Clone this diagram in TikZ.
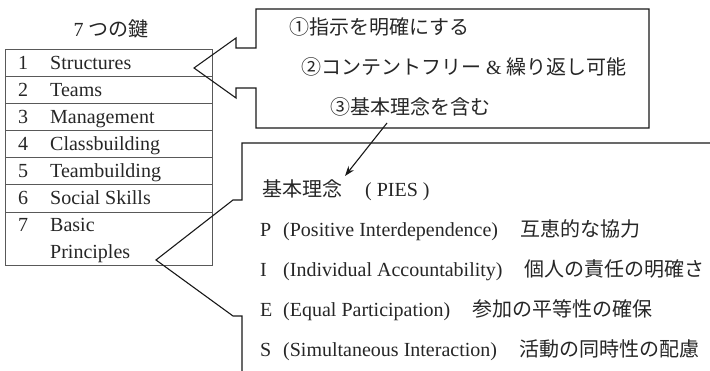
\documentclass[tikz,border=0pt]{standalone}
\usepackage{fontspec}
\setmainfont{Liberation Serif}
\newfontfamily\jpfont{Noto Sans CJK JP}
\usetikzlibrary{arrows.meta}
\begin{document}
\begin{tikzpicture}[x=1pt,y=-1pt,
  every node/.style={inner sep=0pt,text=black!85,font=\fontsize{20}{26}\selectfont},
  lbl/.style={anchor=base west},
  num/.style={anchor=base},
  tableline/.style={draw=black!65,line width=0.9pt},
  calloutline/.style={draw=black!90,line width=1.1pt,line join=miter},
  pointer/.style={draw=black!90,line width=1.1pt,-{Stealth[length=10pt,width=7pt]}}]
\useasboundingbox (0,0) rectangle (710,371);

% title
\node[num] (title) at (111,37) {7 {\jpfont つの鍵}};

% table
\draw[tableline] (5,49) rectangle (212,265);
\foreach \yy in {76,103,130,157,184,212} \draw[tableline] (5,\yy) -- (212,\yy);
\node[num] (n1) at (23,69.5) {1};  \node[lbl] (t1) at (50,69.5) {Structures};
\node[num] (n2) at (23,96.5) {2};  \node[lbl] (t2) at (50,96.5) {Teams};
\node[num] (n3) at (23,123.5) {3}; \node[lbl] (t3) at (50,123.5) {Management};
\node[num] (n4) at (23,150.5) {4}; \node[lbl] (t4) at (50,150.5) {Classbuilding};
\node[num] (n5) at (23,177.5) {5}; \node[lbl] (t5) at (50,177.5) {Teambuilding};
\node[num] (n6) at (23,205) {6};   \node[lbl] (t6) at (50,205) {Social Skills};
\node[num] (n7) at (23,232) {7};   \node[lbl] (t7) at (50,232) {Basic};
\node[lbl] (t7b) at (50,259) {Principles};

% top callout
\draw[calloutline] (256,48) -- (256,9) -- (649,9) -- (649,128) -- (256,128)
  -- (256,88) -- (236,88) -- (236,98) -- (194,68) -- (236,38) -- (236,48) -- cycle;
\node[lbl] (k1) at (289,35) {\jpfont ①指示を明確にする};
\node[lbl] (k2) at (301,75) {{\jpfont ②コンテントフリー}\hspace{5pt}\&\hspace{5pt}{\jpfont 繰り返し可能}};
\node[lbl] (k3) at (330,115) {\jpfont ③基本理念を含む};

% pointer
\coordinate (pa) at (387,123);
\coordinate (pb) at (345,176);
\draw[pointer] (pa) -- (pb);

% bottom callout
\draw[calloutline] (712,143) -- (242,143) -- (242,200) -- (233,200) -- (156,260)
  -- (233,316) -- (242,316) -- (242,373);
\node[lbl] (h) at (262,197) {{\jpfont 基本理念}\hspace{23pt}( PIES )};
\node[lbl] (pl) at (260,237) {P}; \node[lbl] (pt) at (283,237) {(Positive Interdependence)\hspace{22pt}{\jpfont 互恵的な協力}};
\node[lbl] (il) at (260,277) {I}; \node[lbl] (it) at (283,277) {(Individual Accountability)\hspace{22pt}{\jpfont 個人の責任の明確さ}};
\node[lbl] (el) at (260,317) {E}; \node[lbl] (et) at (283,317) {(Equal Participation)\hspace{22pt}{\jpfont 参加の平等性の確保}};
\node[lbl] (sl) at (260,357) {S}; \node[lbl] (st) at (283,357) {(Simultaneous Interaction)\hspace{22pt}{\jpfont 活動の同時性の配慮}};
\end{tikzpicture}
\end{document}
